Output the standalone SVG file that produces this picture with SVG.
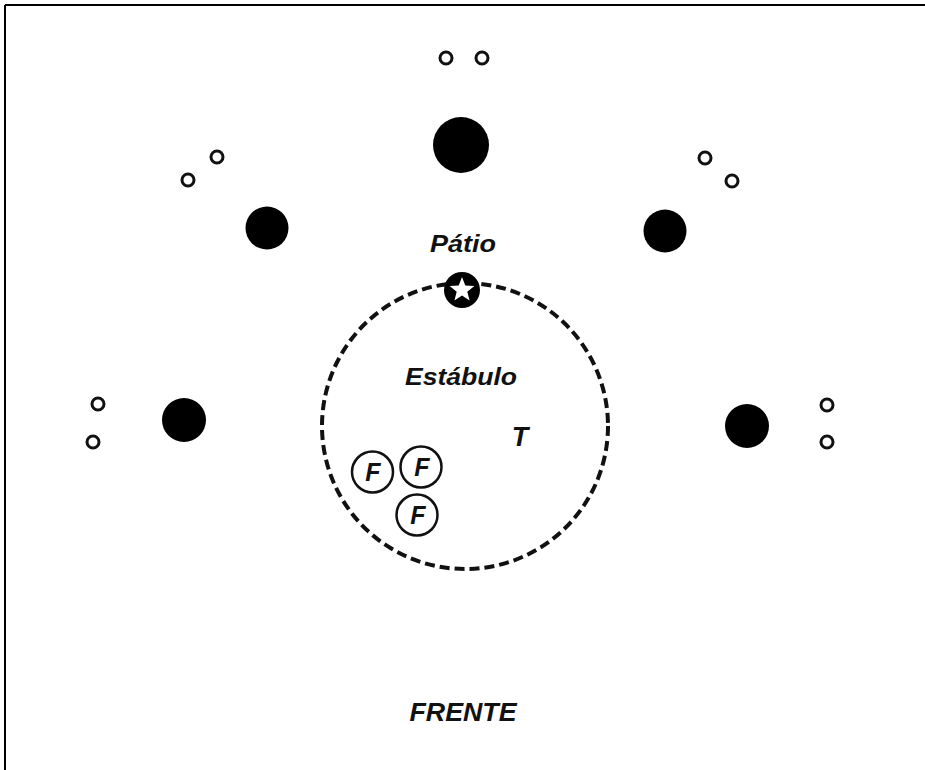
<svg xmlns="http://www.w3.org/2000/svg" width="925" height="770" viewBox="0 0 925 770">
<style>
.lbl{font-family:"Liberation Sans",Arial,sans-serif;font-weight:bold;font-style:italic;fill:#111;text-anchor:middle}
.small{fill:#fff;stroke:#111;stroke-width:3}
.big{fill:#000}
.f{fill:#fff;stroke:#111;stroke-width:2.5}
</style>
<rect width="925" height="770" fill="#fff"/>
<g id="frame" stroke="#000" stroke-width="2" fill="none">
<line x1="5" y1="5" x2="925" y2="5"/>
<line x1="5" y1="5" x2="5" y2="770"/>
</g>
<g id="top">
<circle class="small" cx="446" cy="58" r="6"/>
<circle class="small" cx="482" cy="58" r="6"/>
<circle class="big" cx="461" cy="145" r="28"/>
</g>
<g id="upper-left">
<circle class="small" cx="217" cy="157" r="6"/>
<circle class="small" cx="188" cy="180" r="6"/>
<circle class="big" cx="267" cy="228" r="21.5"/>
</g>
<g id="upper-right">
<circle class="small" cx="705" cy="158" r="6"/>
<circle class="small" cx="732" cy="181" r="6"/>
<circle class="big" cx="665" cy="231" r="21.5"/>
</g>
<g id="left">
<circle class="small" cx="98" cy="404" r="6"/>
<circle class="small" cx="93" cy="442" r="6"/>
<circle class="big" cx="184" cy="420" r="22"/>
</g>
<g id="right">
<circle class="small" cx="827" cy="405" r="6"/>
<circle class="small" cx="827" cy="442" r="6"/>
<circle class="big" cx="747" cy="426" r="22"/>
</g>
<g id="stable">
<circle cx="465" cy="426" r="143" fill="none" stroke="#111" stroke-width="4" stroke-dasharray="10 5"/>
<text class="lbl" x="461" y="385" font-size="23" textLength="112" lengthAdjust="spacingAndGlyphs">Estábulo</text>
<text class="lbl" x="520" y="446" font-size="27">T</text>
</g>
<g id="patio">
<text class="lbl" x="463" y="252" font-size="23" textLength="66" lengthAdjust="spacingAndGlyphs">Pátio</text>
<circle cx="462" cy="290" r="18" fill="#000"/>
<polygon fill="#fff" points="462,277 465.3,285.5 474.4,286 467.3,291.8 469.6,300.6 462,295.6 454.4,300.6 456.7,291.8 449.6,286 458.7,285.5"/>
</g>
<g id="f1">
<circle class="f" cx="372.5" cy="472" r="20.5"/>
<text class="lbl" x="373" y="481" font-size="25">F</text>
</g>
<g id="f2">
<circle class="f" cx="421" cy="467" r="20.5"/>
<text class="lbl" x="422" y="476" font-size="25">F</text>
</g>
<g id="f3">
<circle class="f" cx="417" cy="515" r="20.5"/>
<text class="lbl" x="418" y="524" font-size="25">F</text>
</g>
<g id="front">
<text class="lbl" x="463" y="721" font-size="26" textLength="107" lengthAdjust="spacingAndGlyphs">FRENTE</text>
</g>
</svg>
